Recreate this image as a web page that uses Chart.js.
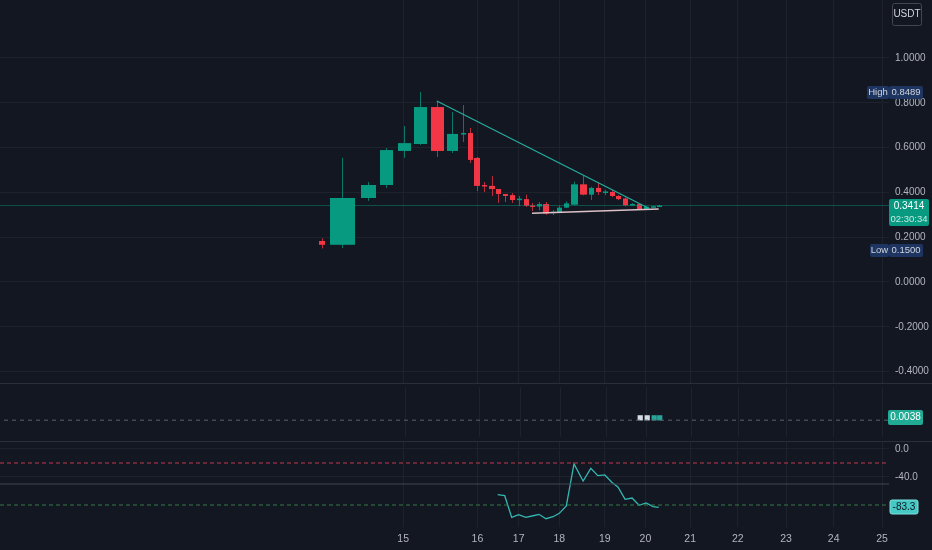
<!DOCTYPE html>
<html>
<head>
<meta charset="utf-8">
<script src="https://cdn.jsdelivr.net/npm/chart.js@4.4.1/dist/chart.umd.min.js"></script>
<style>
  html, body { margin: 0; padding: 0; background: #131722; }
  #wrap { position: relative; width: 932px; height: 550px; overflow: hidden; background: #131722; }
  .pane { position: absolute; left: 0; width: 932px; }
</style>
</head>
<body>
<div id="wrap">
  <div class="pane" style="top:0;height:383px"><canvas id="main"></canvas></div>
  <div class="pane" style="top:383px;height:58px"><canvas id="mid"></canvas></div>
  <div class="pane" style="top:441px;height:109px"><canvas id="osc"></canvas></div>
</div>
<script>
// bar slots (x) and day tick labels
const dayTickPos = [57.6, 68.2, 74.1, 79.9, 86.4, 92.2, 98.6, 105.4, 112.3, 119.1, 126.0];
const dayLabels = ['15', '16', '17', '18', '19', '20', '21', '22', '23', '24', '25'];

const barPos = [46.0, 48.9, 52.6, 55.1, 57.7, 60.0, 62.4, 64.6, 66.1, 67.1,
  68.1, 69.1, 70.3, 71.1, 72.1, 73.1, 74.1, 75.1, 76.0, 77.0,
  78.0, 79.0, 79.9, 80.9, 82.0, 83.3, 84.4, 85.4, 86.4, 87.4,
  88.3, 89.3, 90.3, 91.3, 92.3, 93.3, 94.1];
const barSpan = [0.9, 3.6, 2.2, 1.85, 1.9, 1.9, 1.85, 1.6, 0.75, 0.75,
  0.8, 0.75, 0.8, 0.75, 0.75, 0.75, 0.75, 0.75, 0.75, 0.75,
  0.8, 0.75, 0.75, 0.75, 0.95, 1.0, 0.75, 0.75, 0.75, 0.75,
  0.75, 0.75, 0.75, 0.75, 0.75, 0.75, 0.75];

const opens = [0.183, 0.166, 0.375, 0.433, 0.585, 0.616, 0.781, 0.585, 0.661, 0.665,
  0.554, 0.433, 0.429, 0.415, 0.393, 0.388, 0.368, 0.370, 0.342, 0.337,
  0.348, 0.309, 0.312, 0.332, 0.345, 0.436, 0.390, 0.420, 0.402, 0.402,
  0.384, 0.373, 0.342, 0.348, 0.326, 0.335, 0.339];
const highs = [0.195, 0.554, 0.446, 0.598, 0.696, 0.849, 0.808, 0.759, 0.790, 0.688,
  0.558, 0.446, 0.473, 0.415, 0.393, 0.397, 0.384, 0.390, 0.353, 0.357,
  0.357, 0.321, 0.340, 0.360, 0.448, 0.473, 0.425, 0.443, 0.412, 0.410,
  0.388, 0.378, 0.352, 0.350, 0.338, 0.340, 0.344];
const lows = [0.150, 0.152, 0.362, 0.420, 0.554, 0.612, 0.558, 0.576, 0.625, 0.531,
  0.406, 0.402, 0.384, 0.353, 0.357, 0.353, 0.339, 0.335, 0.317, 0.320,
  0.300, 0.299, 0.310, 0.330, 0.342, 0.387, 0.366, 0.388, 0.388, 0.379,
  0.366, 0.338, 0.340, 0.322, 0.322, 0.333, 0.337];
const closes = [0.166, 0.375, 0.433, 0.589, 0.620, 0.781, 0.585, 0.661, 0.665, 0.545,
  0.429, 0.429, 0.415, 0.393, 0.384, 0.366, 0.372, 0.340, 0.337, 0.348,
  0.306, 0.314, 0.332, 0.351, 0.436, 0.390, 0.420, 0.402, 0.404, 0.384,
  0.370, 0.342, 0.348, 0.326, 0.336, 0.338, 0.3414];

const priceTicks = [1.0, 0.8, 0.6, 0.4, 0.2, 0.0, -0.2, -0.4];
const lastPrice = 0.3414;
const highPrice = 0.8489;
const lowPrice = 0.1500;

const upperTrend = [{ x: 62.4, y: 0.808 }, { x: 92.6, y: 0.330 }];
const lowerTrend = [{ x: 76.0, y: 0.307 }, { x: 94.1, y: 0.326 }];

// middle pane
const midLevel = 0.0038;
const midMarks = [0.00433, 0.00433, 0.00433, 0.00433];
const midMarkColors = ['#d4dde6', '#d4dde6', '#26a69a', '#26a69a'];

// oscillator pane (from bar 14 onwards)
const wrValues = [-65.3, -66.7, -97.6, -93.9, -97.6, -95.7, -93.3, -99.6, -96.7, -91.9,
  -81.4, -21.4, -45.7, -27.6, -38.1, -37.1, -47.6, -54.7, -71.9, -70.0,
  -80.4, -77.1, -82.4, -83.3];
const wrTicks = [0, -40];
const wrUpper = -20, wrMiddle = -50, wrLower = -80;

const BG = '#131722';
const GRID = '#1e222d';
const SEP = '#2a2e39';
const TEXT = '#b2b5be';
const UP = '#089981';
const DOWN = '#f23645';
const UP_WICK = 'rgba(8,153,129,0.75)';
const DOWN_WICK = 'rgba(242,54,69,0.75)';
const FONT = '"Liberation Sans", Arial, sans-serif';
const X_MIN = 0, X_MAX = 127;
const AXIS_W = 43;

function xScale(showLabels) {
  return {
    type: 'linear',
    min: X_MIN,
    max: X_MAX,
    afterBuildTicks: (s) => { s.ticks = dayTickPos.map(v => ({ value: v })); },
    afterFit: (s) => {
      s.height = showLabels ? 23 : 0;
      s.paddingLeft = 0;
      s.paddingRight = 0;
    },
    grid: { color: GRID, drawTicks: false },
    border: { display: false },
    ticks: {
      display: showLabels,
      color: TEXT,
      font: { family: FONT, size: 10.5 },
      padding: 6,
      autoSkip: false,
      maxRotation: 0,
      callback: (v, i) => dayLabels[i]
    }
  };
}

function yScale(min, max, ticks, fmt, showGrid) {
  return {
    type: 'linear',
    position: 'right',
    min: min,
    max: max,
    afterBuildTicks: (s) => { s.ticks = ticks.map(v => ({ value: v })); },
    afterFit: (s) => {
      s.width = AXIS_W;
      s.paddingTop = 0;
      s.paddingBottom = 0;
    },
    grid: { display: showGrid, color: GRID, drawTicks: false },
    border: { display: false },
    ticks: {
      display: ticks.length > 0,
      color: TEXT,
      font: { family: FONT, size: 10 },
      padding: 6,
      callback: fmt
    }
  };
}

function baseOptions(scales) {
  return {
    responsive: true,
    maintainAspectRatio: false,
    animation: false,
    events: [],
    layout: { padding: 0 },
    plugins: { legend: { display: false }, tooltip: { enabled: false } },
    scales: scales
  };
}

function flatLine(value, color, dash, width) {
  return {
    data: [{ x: X_MIN, y: value }, { x: X_MAX, y: value }],
    borderColor: color,
    borderWidth: width || 1,
    borderDash: dash || [],
    pointRadius: 0
  };
}

function tag(ctx, x, y, w, h, bg, lines, fg, border) {
  ctx.fillStyle = bg;
  ctx.beginPath();
  ctx.roundRect(x, y, w, h, 2);
  ctx.fill();
  if (border) {
    ctx.strokeStyle = border;
    ctx.lineWidth = 1;
    ctx.stroke();
  }
  ctx.textAlign = 'center';
  ctx.textBaseline = 'middle';
  lines.forEach((l) => {
    ctx.fillStyle = l.color || fg;
    ctx.font = (l.size || 10) + 'px ' + FONT;
    ctx.fillText(l.text, x + w / 2, l.y);
  });
}

const separator = {
  id: 'separator',
  afterDraw(chart) {
    const ctx = chart.ctx;
    ctx.save();
    ctx.strokeStyle = SEP;
    ctx.lineWidth = 1;
    ctx.beginPath();
    ctx.moveTo(0, 0.5);
    ctx.lineTo(chart.width, 0.5);
    ctx.stroke();
    ctx.restore();
  }
};

const candles = {
  id: 'candles',
  beforeDatasetsDraw(chart) {
    const { ctx, scales: { x, y } } = chart;
    ctx.save();
    barPos.forEach((pos, i) => {
      const up = closes[i] >= opens[i];
      const cx = Math.round(x.getPixelForValue(pos));
      const w = Math.max(3, Math.round(x.getPixelForValue(pos + barSpan[i] / 2) - x.getPixelForValue(pos - barSpan[i] / 2)));
      const yh = y.getPixelForValue(highs[i]);
      const yl = y.getPixelForValue(lows[i]);
      const yo = y.getPixelForValue(opens[i]);
      const yc = y.getPixelForValue(closes[i]);
      ctx.fillStyle = up ? UP_WICK : DOWN_WICK;
      ctx.fillRect(cx, yh, 1, yl - yh);
      const top = Math.min(yo, yc);
      const h = Math.max(1.5, Math.abs(yo - yc));
      ctx.fillStyle = up ? UP : DOWN;
      ctx.fillRect(cx - Math.floor(w / 2), top, w, h);
    });
    ctx.restore();
  }
};

const mainTags = {
  id: 'mainTags',
  afterDraw(chart) {
    const { ctx, chartArea, scales: { y } } = chart;
    const r = chartArea.right;
    ctx.save();
    tag(ctx, r + 3.5, 3.5, 29, 22, BG, [{ text: 'USDT', y: 14.5 }], '#d1d4dc', '#434651');
    const hy = Math.round(y.getPixelForValue(highPrice));
    tag(ctx, r - 22, hy - 6, 22, 13, '#1e3562', [{ text: 'High', y: hy + 0.5, size: 9.5 }], '#d1d4dc');
    tag(ctx, r, hy - 6, 34, 13, '#1e3562', [{ text: highPrice.toFixed(4), y: hy + 0.5, size: 9.5 }], '#d1d4dc');
    const ly = Math.round(y.getPixelForValue(lowPrice)) + 2;
    tag(ctx, r - 19, ly - 6, 19, 13, '#1e3562', [{ text: 'Low', y: ly + 0.5, size: 9.5 }], '#d1d4dc');
    tag(ctx, r, ly - 6, 34, 13, '#1e3562', [{ text: lowPrice.toFixed(4), y: ly + 0.5, size: 9.5 }], '#d1d4dc');
    const py = Math.round(y.getPixelForValue(lastPrice));
    tag(ctx, r, py - 7, 40, 27, UP, [
      { text: lastPrice.toFixed(4), y: py + 0.5 },
      { text: '02:30:34', y: py + 13, color: '#c6ece4', size: 9.5 }
    ], '#ffffff');
    ctx.restore();
  }
};

new Chart(document.getElementById('main'), {
  type: 'line',
  data: {
    datasets: [
      flatLine(lastPrice, 'rgba(8,153,129,0.45)'),
      { data: upperTrend, borderColor: '#26ad9e', borderWidth: 1.2, pointRadius: 0 },
      { data: lowerTrend, borderColor: '#dcc1c6', borderWidth: 1.5, pointRadius: 0 }
    ]
  },
  options: baseOptions({
    x: xScale(false),
    y: yScale(-0.4509, 1.2589, priceTicks, (v) => Number(v).toFixed(4), true)
  }),
  plugins: [candles, mainTags]
});

const midTags = {
  id: 'midTags',
  afterDraw(chart) {
    const { ctx, chartArea, scales: { y } } = chart;
    const my = Math.round(y.getPixelForValue(midLevel)) - 3;
    ctx.save();
    tag(ctx, chartArea.right - 1, my - 7, 35, 15, '#22ab94', [{ text: midLevel.toFixed(4), y: my + 0.5 }], '#ffffff');
    ctx.restore();
  }
};

new Chart(document.getElementById('mid'), {
  type: 'line',
  data: {
    datasets: [
      flatLine(midLevel, '#5d606b', [4, 4]),
      {
        data: midMarks.map((v, i) => ({ x: barPos[barPos.length - midMarks.length + i], y: v })),
        showLine: false,
        pointStyle: 'rect',
        pointRadius: 3.7,
        pointBorderWidth: 0,
        pointBackgroundColor: midMarkColors
      }
    ]
  },
  options: baseOptions({
    x: xScale(false),
    y: yScale(0, 0.0113, [], (v) => v, false)
  }),
  plugins: [separator, midTags]
});

const oscTags = {
  id: 'oscTags',
  afterDraw(chart) {
    const { ctx, chartArea, scales: { y } } = chart;
    const last = wrValues[wrValues.length - 1];
    const wy = Math.round(y.getPixelForValue(last));
    ctx.save();
    tag(ctx, chartArea.right + 1, wy - 7, 28, 14, '#46c9c4', [{ text: last.toFixed(1), y: wy + 0.5 }], '#131722', '#7fe0dc');
    ctx.restore();
  }
};

new Chart(document.getElementById('osc'), {
  type: 'line',
  data: {
    datasets: [
      flatLine(wrUpper, '#c13a4c', [4, 3]),
      flatLine(wrMiddle, '#434651'),
      flatLine(wrLower, '#357a44', [4, 3]),
      {
        data: wrValues.map((v, i) => ({ x: barPos[barPos.length - wrValues.length + i], y: v })),
        borderColor: '#33b8b2',
        borderWidth: 1.3,
        pointRadius: 0,
        tension: 0
      }
    ]
  },
  options: baseOptions({
    x: xScale(true),
    y: yScale(-111.4, 11.4, wrTicks, (v) => Number(v).toFixed(1), true)
  }),
  plugins: [separator, oscTags]
});
</script>
</body>
</html>
